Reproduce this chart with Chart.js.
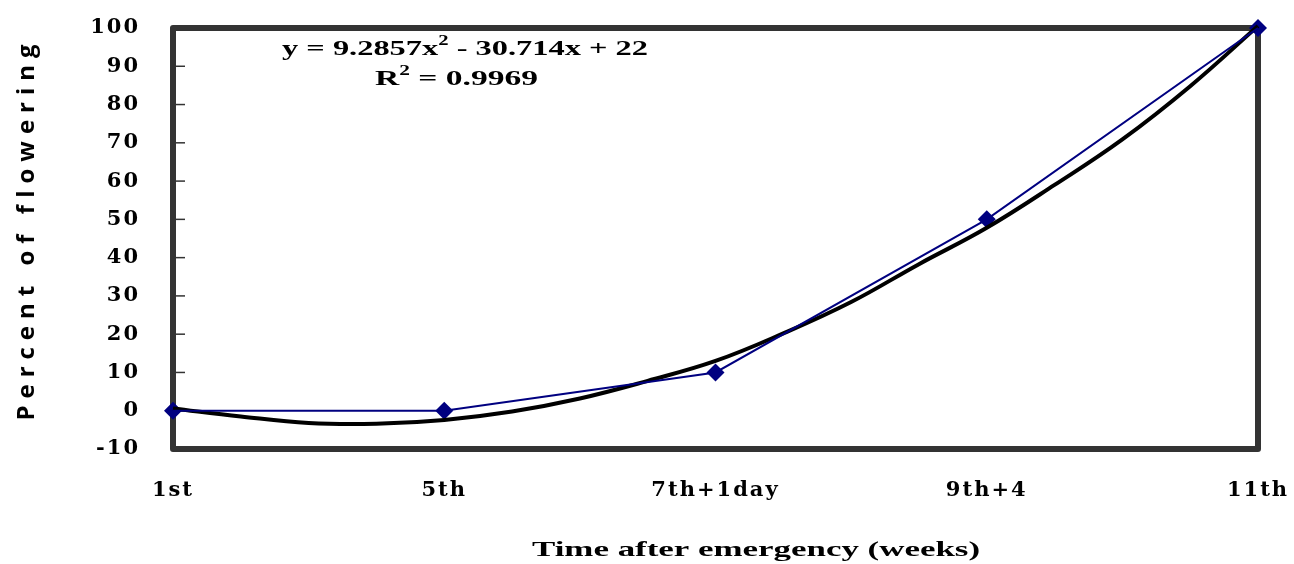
<!DOCTYPE html>
<html>
<head>
<meta charset="utf-8">
<script src="https://cdn.jsdelivr.net/npm/chart.js"></script>
<style>
  html, body { margin: 0; padding: 0; background: #fff; }
  #box { width: 1294px; height: 564px; position: relative; }
</style>
</head>
<body>
<div id="box"><canvas id="mycanvas"></canvas></div>
<script>
// categories on the x axis (position 1..5)
var weeks = ['1st', '5th', '7th+1day', '9th+4', '11th'];
var weekPos = [1, 2, 3, 4, 5];
// percent of flowering
var flowering = [0, 0, 10, 50, 100];
// polynomial trend line
var trendX = [1, 1.25, 1.5, 1.75, 2, 2.25, 2.5, 2.75, 3, 3.25, 3.5, 3.75, 4, 4.25, 4.5, 4.75, 5];
var trendY = [0.6, -1.5, -3.2, -3.4, -2.4, -0.2, 3.2, 7.8, 13, 20.2, 28.4, 38.3, 47.8, 59, 70.9, 84.8, 100.5];
var yTicks = [-10, 0, 10, 20, 30, 40, 50, 60, 70, 80, 90, 100];

var pts = [];
for (var i in weekPos) pts.push({x: weekPos[i], y: flowering[i]});
var trend = [];
for (var j in trendX) trend.push({x: trendX[j], y: trendY[j]});

var times = '"Liberation Serif", "Times New Roman", serif';
var wide = '"DejaVu Serif", serif';

// draw a list of [text, small] pieces stretched to a given width
function stretchText(ctx, parts, x, base, target, size) {
	var total = 0;
	parts.forEach(function(p) {
		ctx.font = 'bold ' + (p[1] ? Math.round(size * 0.62) : size) + 'px ' + times;
		total += ctx.measureText(p[0]).width;
	});
	var k = target / total;
	ctx.save();
	ctx.translate(x, base);
	ctx.scale(k, 1);
	var cx = 0;
	parts.forEach(function(p) {
		ctx.font = 'bold ' + (p[1] ? Math.round(size * 0.62) : size) + 'px ' + times;
		ctx.fillText(p[0], cx, p[1] ? -size * 0.45 : 0);
		cx += ctx.measureText(p[0]).width;
	});
	ctx.restore();
}

var framePlugin = {
	id: 'frame',
	beforeDraw: function(chart) {
		chart.ctx.letterSpacing = '2px';
	},
	beforeDatasetsDraw: function(chart) {
		var ctx = chart.ctx, a = chart.chartArea, ys = chart.scales.y;
		ctx.save();
		ctx.strokeStyle = '#333333';
		ctx.lineWidth = 1.5;
		ys.ticks.forEach(function(t) {
			var py = ys.getPixelForValue(t.value);
			ctx.beginPath();
			ctx.moveTo(a.left + 3, py);
			ctx.lineTo(a.left + 12, py);
			ctx.stroke();
		});
		ctx.lineWidth = 6;
		ctx.lineJoin = 'round';
		ctx.strokeRect(a.left, a.top, a.right - a.left, a.bottom - a.top);
		ctx.restore();
	},
	afterDraw: function(chart) {
		var ctx = chart.ctx;
		ctx.save();
		ctx.letterSpacing = '0px';
		ctx.fillStyle = '#000';
		ctx.textBaseline = 'alphabetic';
		ctx.textAlign = 'left';

		// trend equation
		stretchText(ctx, [['y = 9.2857x', 0], ['2', 1], [' - 30.714x + 22', 0]], 282, 55, 366, 22);
		stretchText(ctx, [['R', 0], ['2', 1], [' = 0.9969', 0]], 375, 85, 163, 22);

		// x axis title
		stretchText(ctx, [['Time after emergency (weeks)', 0]], 532, 556, 448, 21);

		// y axis title
		ctx.translate(34, 229);
		ctx.rotate(-Math.PI / 2);
		ctx.textAlign = 'center';
		ctx.letterSpacing = '7px';
		ctx.font = 'bold 24px "Open Sans", sans-serif';
		ctx.fillText('Percent of flowering', 0, 0);
		ctx.restore();
	}
};

var ctx = document.getElementById('mycanvas');

var chart = new Chart(ctx, {
	type: 'scatter',
	data: {
		datasets: [
			{
				label: 'line',
				data: pts,
				showLine: true,
				borderColor: '#000080',
				borderWidth: 2,
				pointRadius: 0,
				clip: false
			},
			{
				label: 'trend',
				data: trend,
				showLine: true,
				borderColor: '#000000',
				borderWidth: 4,
				tension: 0.4,
				pointRadius: 0,
				clip: false
			},
			{
				label: 'points',
				data: pts,
				showLine: false,
				pointStyle: 'rectRot',
				pointRadius: 9,
				backgroundColor: '#000080',
				borderColor: '#000080',
				borderWidth: 0,
				clip: false
			}
		]
	},
	options: {
		responsive: true,
		maintainAspectRatio: false,
		animation: false,
		layout: { padding: { top: 28, right: 36, left: 0, bottom: 0 } },
		plugins: {
			legend: { display: false },
			tooltip: { enabled: false }
		},
		scales: {
			x: {
				type: 'linear',
				min: 1,
				max: 5,
				grid: { display: false },
				border: { display: false },
				afterFit: function(s) {
					s.height = 115;
					s.paddingLeft = 0;
					s.paddingRight = 0;
				},
				afterBuildTicks: function(s) {
					s.ticks = weekPos.map(function(v) { return {value: v}; });
				},
				ticks: {
					autoSkip: false,
					maxRotation: 0,
					padding: 21,
					color: '#000',
					font: { family: wide, size: 21, weight: 'bold' },
					callback: function(v) { return weeks[weekPos.indexOf(v)]; }
				}
			},
			y: {
				min: -10,
				max: 100,
				grid: { display: false },
				border: { display: false },
				afterFit: function(s) {
					s.width = 173;
					s.paddingTop = 0;
					s.paddingBottom = 0;
				},
				afterBuildTicks: function(s) {
					s.ticks = yTicks.map(function(v) { return {value: v}; });
				},
				ticks: {
					padding: 25,
					color: '#000',
					font: { family: wide, size: 21, weight: 'bold' }
				}
			}
		}
	},
	plugins: [framePlugin]
});
</script>
</body>
</html>
